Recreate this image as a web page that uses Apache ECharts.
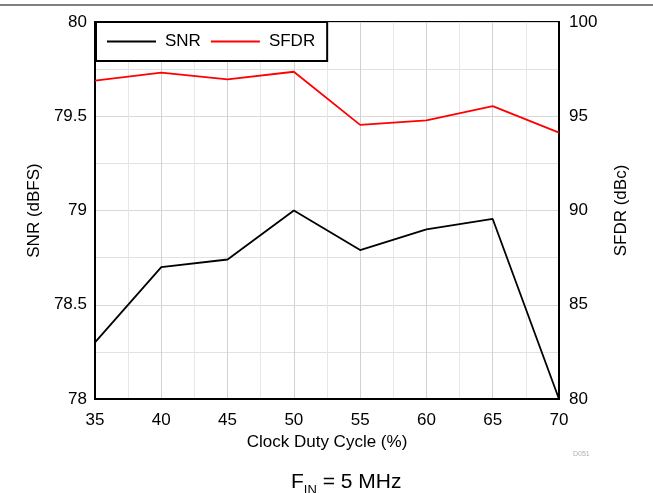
<!DOCTYPE html>
<html>
<head>
<meta charset="utf-8">
<script src="https://cdn.jsdelivr.net/npm/echarts@6/dist/echarts.min.js"></script>
<style>html,body{margin:0;padding:0;background:#fff}#c{width:653px;height:493px}</style>
</head>
<body>
<div id="c"></div>
<script>
const duty = [35, 40, 45, 50, 55, 60, 65, 70];
const snr = [78.30, 78.70, 78.74, 79.00, 78.79, 78.90, 78.955, 78.00];
const sfdr = [96.89, 97.31, 96.96, 97.36, 94.54, 94.78, 95.54, 94.13];

const FONT = '"Liberation Sans", Arial, sans-serif';
const chart = echarts.init(document.getElementById('c'), null, {renderer: 'canvas'});
chart.setOption({
  animation: false,
  backgroundColor: '#fff',
  textStyle: {fontFamily: FONT},
  grid: {left: 95, right: 94, top: 22, bottom: 94, show: true, borderColor: '#000', borderWidth: 2, containLabel: false},
  legend: {
    left: 96, top: 22,
    orient: 'horizontal',
    backgroundColor: '#fff',
    borderColor: '#000', borderWidth: 2, borderRadius: 0,
    padding: [11, 12, 11, 11],
    icon: 'rect',
    itemWidth: 49, itemHeight: 2, itemGap: 10,
    textStyle: {fontFamily: FONT, fontSize: 17, color: '#000', padding: [0, 0, 0, 4]},
    data: ['SNR', 'SFDR']
  },
  xAxis: {
    type: 'value', min: 35, max: 70, interval: 5,
    name: 'Clock Duty Cycle (%)', nameLocation: 'middle', nameGap: 31,
    nameTextStyle: {fontFamily: FONT, fontSize: 17, color: '#000'},
    axisLine: {show: true, lineStyle: {color: '#000', width: 2}},
    axisTick: {show: false},
    axisLabel: {fontFamily: FONT, fontSize: 17, color: '#000', margin: 13},
    splitLine: {show: true, lineStyle: {color: '#d2d2d2', width: 1}},
    minorTick: {show: false, splitNumber: 2},
    minorSplitLine: {show: true, lineStyle: {color: '#e6e6e6', width: 1}}
  },
  yAxis: [{
    type: 'value', position: 'left', min: 78, max: 80, interval: 0.5,
    name: 'SNR (dBFS)', nameLocation: 'middle', nameGap: 52,
    nameTextStyle: {fontFamily: FONT, fontSize: 17, color: '#000'},
    axisLine: {show: true, lineStyle: {color: '#000', width: 2}},
    axisTick: {show: false},
    axisLabel: {fontFamily: FONT, fontSize: 17, color: '#000', margin: 8},
    splitLine: {show: true, lineStyle: {color: '#d8d8d8', width: 1}},
    minorTick: {show: false, splitNumber: 2},
    minorSplitLine: {show: true, lineStyle: {color: '#e2e2e2', width: 1}}
  }, {
    type: 'value', position: 'right', min: 80, max: 100, interval: 5,
    name: 'SFDR (dBc)', nameLocation: 'middle', nameGap: 54,
    nameTextStyle: {fontFamily: FONT, fontSize: 17, color: '#000'},
    axisLine: {show: true, lineStyle: {color: '#000', width: 2}},
    axisTick: {show: false},
    axisLabel: {fontFamily: FONT, fontSize: 17, color: '#000', margin: 10},
    splitLine: {show: false}
  }],
  series: [{
    name: 'SNR', type: 'line', yAxisIndex: 0, symbol: 'none',
    lineStyle: {color: '#000', width: 1.8}, itemStyle: {color: '#000'},
    data: duty.map((d, i) => [d, snr[i]])
  }, {
    name: 'SFDR', type: 'line', yAxisIndex: 1, symbol: 'none',
    lineStyle: {color: '#ff0000', width: 1.8}, itemStyle: {color: '#ff0000'},
    data: duty.map((d, i) => [d, sfdr[i]])
  }],
  graphic: [
    {type: 'line', shape: {x1: 0, y1: 5, x2: 653, y2: 5}, style: {stroke: '#7f7f7f', lineWidth: 2}},
    {type: 'text', left: 573, top: 451, style: {text: 'D051', fontFamily: FONT, fontSize: 7, fill: '#b0b0b0'}},
    {type: 'text', left: 291, top: 472, style: {
      text: '{a|F}{b|IN}{a| = 5 MHz}',
      rich: {
        a: {fontFamily: FONT, fontSize: 21, fill: '#000', color: '#000', verticalAlign: 'bottom'},
        b: {fontFamily: FONT, fontSize: 13, fill: '#000', color: '#000', verticalAlign: 'bottom', padding: [0, 0, -4, 0]}
      }
    }}
  ]
});
</script>
</body>
</html>
